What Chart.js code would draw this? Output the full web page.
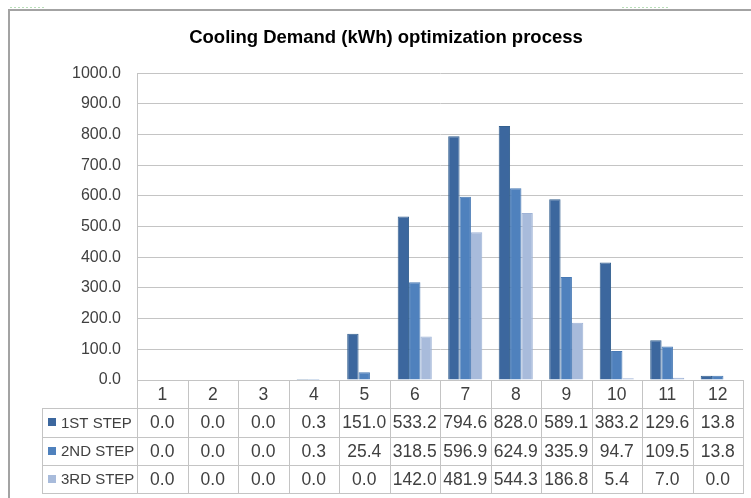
<!DOCTYPE html>
<html>
<head>
<meta charset="utf-8">
<script src="https://cdn.jsdelivr.net/npm/chart.js@4.4.0/dist/chart.umd.min.js"></script>
<style>
body { margin: 0; background: #fff; }
#wrap { width: 751px; height: 498px; position: relative; }
</style>
</head>
<body>
<div id="wrap"><canvas id="myChart"></canvas></div>

<script>
// values
var months = ["1", "2", "3", "4", "5", "6", "7", "8", "9", "10", "11", "12"];
var seriesNames = ["1ST STEP", "2ND STEP", "3RD STEP"];
var step1 = [0.0, 0.0, 0.0, 0.3, 151.0, 533.2, 794.6, 828.0, 589.1, 383.2, 129.6, 13.8];
var step2 = [0.0, 0.0, 0.0, 0.3, 25.4, 318.5, 596.9, 624.9, 335.9, 94.7, 109.5, 13.8];
var step3 = [0.0, 0.0, 0.0, 0.0, 0.0, 142.0, 481.9, 544.3, 186.8, 5.4, 7.0, 0.0];

var fills = ["#3c679e", "#4f81bd", "#a8bbdb"];
var edges = ["#34608f", "#4779b4", "#9fb3d6"];
var gridColor = "#c4c4c4";
var textColor = "#404040";
var fontName = "'Liberation Sans', Arial, sans-serif";

var rows = [step1, step2, step3];

// frame round the chart + the data table under the plot
var tablePlugin = {
  id: "dataTable",
  beforeDraw: function (chart) {
    var ctx = chart.ctx;
    ctx.save();
    ctx.strokeStyle = "#a3a3a3";
    ctx.lineWidth = 2;
    ctx.beginPath();
    ctx.moveTo(8, 10);
    ctx.lineTo(751, 10);
    ctx.moveTo(9, 10);
    ctx.lineTo(9, 498);
    ctx.stroke();
    ctx.strokeStyle = "#b8deb8";
    ctx.lineWidth = 1;
    ctx.setLineDash([2, 2]);
    ctx.beginPath();
    ctx.moveTo(10, 7.5);
    ctx.lineTo(46, 7.5);
    ctx.moveTo(622, 7.5);
    ctx.lineTo(668, 7.5);
    ctx.stroke();
    ctx.restore();
  },
  afterDraw: function (chart) {
    var ctx = chart.ctx;
    var area = chart.chartArea;
    var xs = chart.scales.x;
    var rowH = 28.3;
    var top = area.bottom;
    var bottom = top + rowH * 4;
    var tableLeft = 42;
    var colW = (area.right - area.left) / months.length;

    ctx.save();
    ctx.strokeStyle = gridColor;
    ctx.lineWidth = 1;
    ctx.beginPath();
    for (var i = 0; i <= months.length; i++) {
      var px = Math.round(area.left + i * colW) + 0.5;
      ctx.moveTo(px, top);
      ctx.lineTo(px, bottom);
    }
    ctx.moveTo(tableLeft + 0.5, top + rowH);
    ctx.lineTo(tableLeft + 0.5, bottom);
    for (var r = 1; r <= 4; r++) {
      var py = Math.round(top + r * rowH) + 0.5;
      ctx.moveTo(tableLeft, py);
      ctx.lineTo(Math.round(area.right) + 1, py);
    }
    ctx.stroke();

    ctx.fillStyle = textColor;
    ctx.textBaseline = "middle";
    for (var s = 0; s < rows.length; s++) {
      var cy = top + rowH * (s + 1.5);
      // legend key
      ctx.fillStyle = fills[s];
      ctx.fillRect(48, Math.round(cy) - 4, 8, 8);
      ctx.fillStyle = textColor;
      ctx.textAlign = "left";
      ctx.font = "15px " + fontName;
      ctx.fillText(seriesNames[s], 61, cy + 1);
      ctx.textAlign = "center";
      ctx.font = "17.5px " + fontName;
      for (var m = 0; m < months.length; m++) {
        ctx.fillText(rows[s][m].toFixed(1), xs.getPixelForValue(m), cy + 1);
      }
    }
    ctx.restore();
  }
};

new Chart("myChart", {
  type: "bar",
  data: {
    labels: months,
    datasets: [
      { label: seriesNames[0], data: step1, backgroundColor: fills[0], borderColor: edges[0], borderWidth: 1 },
      { label: seriesNames[1], data: step2, backgroundColor: fills[1], borderColor: edges[1], borderWidth: 1 },
      { label: seriesNames[2], data: step3, backgroundColor: fills[2], borderColor: edges[2], borderWidth: 1 }
    ]
  },
  options: {
    responsive: true,
    maintainAspectRatio: false,
    devicePixelRatio: 1,
    animation: false,
    layout: { padding: { left: 29, right: 8, top: 0, bottom: 0 } },
    datasets: { bar: { categoryPercentage: 0.675, barPercentage: 1.0 } },
    plugins: {
      legend: { display: false },
      tooltip: { enabled: false },
      title: {
        display: true,
        text: "Cooling Demand (kWh) optimization process",
        color: "#000",
        font: { family: fontName, size: 18.5, weight: "bold" },
        padding: { top: 27, bottom: 24 }
      }
    },
    scales: {
      x: {
        grid: { display: false },
        border: { display: false },
        ticks: { color: textColor, font: { family: fontName, size: 17.5 }, padding: -3, maxRotation: 0 },
        afterFit: function (scale) { scale.height = 118; }
      },
      y: {
        min: 0,
        max: 1000,
        ticks: {
          stepSize: 100,
          color: textColor,
          padding: 16,
          font: { family: fontName, size: 16 },
          callback: function (v) { return Number(v).toFixed(1); }
        },
        grid: { color: gridColor, drawTicks: false },
        border: { display: true, color: gridColor },
        afterFit: function (scale) { scale.width = 108; }
      }
    }
  },
  plugins: [tablePlugin]
});
</script>
</body>
</html>
